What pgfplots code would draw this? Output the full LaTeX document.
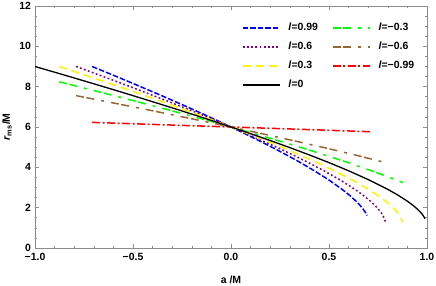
\documentclass[border=0pt]{standalone}
\usepackage{fontspec}
\setmainfont{Liberation Sans}
\usepackage{pgfplots}
\pgfplotsset{compat=1.18}
\definecolor{mbrown}{rgb}{0.6,0.4,0.2}
\definecolor{mpurple}{rgb}{0.5,0,0.5}
\definecolor{mframe}{gray}{0.55}
\begin{document}
\begin{tikzpicture}
\begin{axis}[
  scale only axis, width=392bp, height=242bp,
  xmin=-1, xmax=1, ymin=0, ymax=12,
  xtick={-1,-0.5,0,0.5,1},
  xticklabels={−1.0,−0.5,0.0,0.5,1.0},
  ytick={0,2,4,6,8,10,12},
  yticklabels={0,2,4,6,8,10,12},
  minor x tick num=4, minor y tick num=3,
  tick align=inside,
  major tick length=4bp, minor tick length=2bp,
  axis line style={mframe, line width=0.6bp},
  every tick/.style={mframe, line width=0.5bp},
  ticklabel style={font=\fontsize{10.5}{12}\selectfont\bfseries},
  xticklabel style={yshift=-2bp},
  yticklabel style={xshift=-0.5bp},
  xlabel={a /M},
  ylabel={\textit{r}\textsubscript{ms}/M},
  label style={font=\fontsize{10.5}{12}\selectfont\bfseries},
  xlabel style={at={(axis description cs:0.5,-0.132)}, anchor=center},
  ylabel style={at={(axis description cs:-0.0714,0.5)}, anchor=center, rotate=0},
  legend columns=2,
  legend cell align=left,
  legend image code/.code={\draw[#1] (0bp,0bp) -- (37bp,0bp);},
  legend style={at={(rel axis cs:0.528,0.93)}, anchor=north west, draw=none, fill=none,
    inner sep=0pt, outer sep=0pt,
    font=\fontsize{10.5}{12}\selectfont\bfseries,
    row sep=9bp,
    nodes={inner sep=0pt, text height=8bp, text depth=2bp},
    /tikz/every odd column/.style={column sep=8bp},
    /tikz/every even column/.style={column sep=14bp}},
]
\addplot[blue, line width=1.5bp, dash pattern=on 5.5bp off 2bp] coordinates {
(-0.7089,9.000) (-0.6380,8.717) (-0.5671,8.432) (-0.4962,8.143) (-0.4253,7.851)
(-0.3544,7.555) (-0.2836,7.254) (-0.2127,6.949) (-0.1418,6.639) (-0.0709,6.323)
(0,6) (0.0709,5.670) (0.1418,5.329) (0.2127,4.979) (0.2836,4.614) (0.3544,4.233)
(0.4253,3.829) (0.4962,3.393) (0.5671,2.907) (0.6026,2.633) (0.6380,2.321)
(0.6593,2.104) (0.6734,1.937) (0.6876,1.738) (0.6947,1.614)};
\addlegendentry{\textit{l}=0.99}
\addplot[green, line width=1.5bp, dash pattern=on 8bp off 2.5bp on 8bp off 7bp on 3bp off 7bp] coordinates {
(-0.877,8.241) (-0.8367,8.143) (-0.7171,7.851) (-0.5976,7.555) (-0.4781,7.254)
(-0.3586,6.949) (-0.2390,6.639) (-0.1195,6.323) (0,6) (0.1195,5.670) (0.2390,5.329)
(0.3586,4.979) (0.4781,4.614) (0.5976,4.233) (0.7171,3.829) (0.8367,3.393) (0.877,3.240)};
\addlegendentry{\textit{l}=−0.3}
\addplot[mpurple, line width=1.5bp, dash pattern=on 1.8bp off 2.4bp] coordinates {
(-0.7906,9.000) (-0.7115,8.717) (-0.6325,8.432) (-0.5534,8.143) (-0.4743,7.851)
(-0.3953,7.555) (-0.3162,7.254) (-0.2372,6.949) (-0.1581,6.639) (-0.0791,6.323)
(0,6) (0.0791,5.670) (0.1581,5.329) (0.2372,4.979) (0.3162,4.614) (0.3953,4.233)
(0.4743,3.829) (0.5534,3.393) (0.6325,2.907) (0.6720,2.633) (0.7115,2.321)
(0.7352,2.104) (0.7510,1.937) (0.7668,1.738) (0.7748,1.614) (0.7827,1.455) (0.7882,1.272)};
\addlegendentry{\textit{l}=0.6}
\addplot[mbrown, line width=1.5bp, dash pattern=on 8bp off 2.5bp on 8bp off 7bp on 3bp off 7bp] coordinates {
(-0.7906,7.555) (-0.6325,7.254) (-0.4743,6.949) (-0.3162,6.639) (-0.1581,6.323)
(0,6) (0.1581,5.670) (0.3162,5.329) (0.4743,4.979) (0.6325,4.614) (0.7906,4.233)};
\addlegendentry{\textit{l}=−0.6}
\addplot[yellow, line width=1.5bp, dash pattern=on 8bp off 5bp] coordinates {
(-0.8771,9.000) (-0.7894,8.717) (-0.7016,8.432) (-0.6139,8.143) (-0.5262,7.851)
(-0.4385,7.555) (-0.3508,7.254) (-0.2631,6.949) (-0.1754,6.639) (-0.0877,6.323)
(0,6) (0.0877,5.670) (0.1754,5.329) (0.2631,4.979) (0.3508,4.614) (0.4385,4.233)
(0.5262,3.829) (0.6139,3.393) (0.7016,2.907) (0.7455,2.633) (0.7894,2.321)
(0.8157,2.104) (0.8332,1.937) (0.8507,1.738) (0.8595,1.614) (0.8683,1.455) (0.8744,1.272)};
\addlegendentry{\textit{l}=0.3}
\addplot[red, line width=1.5bp, dash pattern=on 8bp off 2.5bp on 2bp off 2.5bp] coordinates {
(-0.7089,6.229) (-0.3544,6.114) (0,6) (0.3544,5.885) (0.7089,5.767)};
\addlegendentry{\textit{l}=−0.99}
\addplot[black, line width=1.3bp] coordinates {
(-1,9.000) (-0.9,8.717) (-0.8,8.432) (-0.7,8.143) (-0.6,7.851) (-0.5,7.555)
(-0.4,7.254) (-0.3,6.949) (-0.2,6.639) (-0.1,6.323) (0,6) (0.1,5.670) (0.2,5.329)
(0.3,4.979) (0.4,4.614) (0.5,4.233) (0.6,3.829) (0.7,3.393) (0.8,2.907) (0.85,2.633)
(0.9,2.321) (0.93,2.104) (0.95,1.937) (0.97,1.738) (0.98,1.614) (0.99,1.455)};
\addlegendentry{\textit{l}=0}
\end{axis}
\pgfresetboundingbox
\path (current axis.south west) ++(-35bp,-38bp) rectangle ++(436bp,286bp);
\end{tikzpicture}
\end{document}
